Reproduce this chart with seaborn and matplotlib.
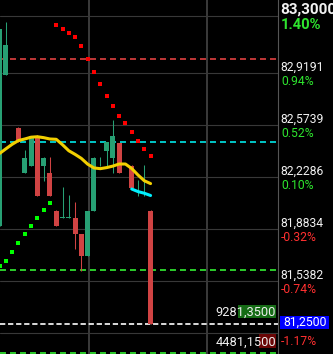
import matplotlib
matplotlib.use("Agg")
import matplotlib.pyplot as plt
from matplotlib.patches import Rectangle
import numpy as np
import seaborn as sns

# candle index (0 = first full candle on screen), prices
bar_idx = list(range(-3, 22))
opens = [81.904, 82.906, 82.958, 82.556, 82.255, 82.304, 82.503, 82.304, 82.255, 82.003,
         81.959, 81.959, 81.959, 81.852, 81.706, 82.005, 82.302, 82.403, 82.357, 82.455,
         np.nan, 82.302, 82.109, 82.109, 82.003]
highs = [83.211, 83.258, 82.960, 82.561, 82.408, 82.501, 82.508, 82.362, 82.362, 82.010,
         82.162, 82.109, 82.063, 81.852, 82.003, 82.362, 82.362, 82.459, 82.607, 82.455,
         np.nan, 82.308, 82.209, 82.308, 82.010]
lows = [81.904, 82.906, 82.958, 82.459, 82.255, 82.304, 82.105, 82.204, 82.105, 81.906,
        81.959, 81.959, 81.753, 81.607, 81.706, 82.005, 82.302, 82.304, 82.255, 82.255,
        np.nan, 82.158, 82.105, 82.105, 81.250]
closes = [83.211, 83.105, 82.960, 82.459, 82.355, 82.501, 82.105, 82.355, 82.105, 81.906,
          81.961, 81.961, 81.852, 81.706, 82.003, 82.355, 82.304, 82.459, 82.501, 82.255,
          np.nan, 82.158, 82.111, 82.111, 81.250]

# moving average (yellow)
ma_vals = [82.385, 82.416, 82.446, 82.471, 82.481, 82.493, 82.496, 82.490, 82.481, 82.479,
           82.443, 82.403, 82.379, 82.352, 82.314, 82.289, 82.284, 82.291, 82.301, 82.315,
           82.315, 82.285, 82.242, 82.204, 82.185]

# short cyan line at the end
cyan_idx = [18, 19, 20, 21]
cyan_vals = [82.149, 82.132, 82.121, 82.106]

# parabolic SAR dots
sar_up_idx = list(range(-3, 6))
sar_up = [81.640, 81.673, 81.733, 81.793, 81.852, 81.906, 81.959, 82.012, 82.058]
sar_dn_idx = list(range(6, 22))
sar_dn = [83.238, 83.211, 83.185, 83.158, 83.098, 83.012, 82.928, 82.848, 82.768, 82.702,
          82.636, 82.589, 82.530, 82.470, 82.417, 82.370]

# horizontal levels
red_level = 83.010
cyan_level = 82.459
green_levels = [81.609, 81.059]
last_price = 81.25
last_label = "81,2500"

# right scale
grid_prices = [83.3000, 82.9191, 82.5739, 82.2286, 81.8834, 81.5382, 81.1930]
price_labels = ["83,3000", "82,9191", "82,5739", "82,2286", "81,8834", "81,5382", None]
pct_labels = ["1.40%", "0.94%", "0.52%", "0.10%", "-0.32%", "-0.74%", "-1.17%"]
vgrid = [11.2, 30.0]

vol_labels = ["9281,3500", "4481,1500"]

W, H = 333, 354

sns.set_theme(style="dark", rc={
    "axes.facecolor": "black",
    "figure.facecolor": "black",
    "savefig.facecolor": "black",
    "lines.scale_dashes": False,
})
plt.rcParams["font.family"] = ["Roboto", "DejaVu Sans"]

fig = plt.figure(figsize=(W / 100, H / 100), dpi=100)
ax = fig.add_axes([0, 0, 278 / W, 1])
ax.set_facecolor("black")

up_col = "#27a074"
dn_col = "#d04343"

o = np.array(opens)
h = np.array(highs)
l = np.array(lows)
c = np.array(closes)
x = np.array(bar_idx, dtype=float)
ok = ~np.isnan(o)
cols = np.where(c >= o, up_col, dn_col)

ax.vlines(x[ok], l[ok], h[ok], colors=cols[ok], lw=0.75, zorder=3)
body = np.maximum(np.abs(c - o), 0.0012)
ax.bar(x[ok], body[ok], bottom=np.minimum(o, c)[ok], width=0.8,
       color=cols[ok], linewidth=0, zorder=3)

sns.lineplot(x=bar_idx, y=ma_vals, color="#f2cf00", linewidth=2.2, ax=ax, zorder=4)
sns.lineplot(x=cyan_idx, y=cyan_vals, color="#00f0ff", linewidth=2.2, ax=ax, zorder=4)

sns.scatterplot(x=sar_up_idx, y=sar_up, marker="s", s=12, color="#00ff00",
                linewidth=0, ax=ax, zorder=5)
sns.scatterplot(x=sar_dn_idx, y=sar_dn, marker="s", s=12, color="#ff0000",
                linewidth=0, ax=ax, zorder=5)

ax.axhline(red_level, color="#e04040", lw=1.2, dashes=(4.3, 2.9), zorder=2)
ax.axhline(cyan_level, color="#00e8e8", lw=1.2, dashes=(4.3, 2.9), zorder=2)
for g in green_levels:
    ax.axhline(g, color="#33f033", lw=1.2, dashes=(4.3, 2.9), zorder=2)
ax.axhline(last_price, color="#ffffff", lw=1.2, dashes=(3.8, 2.0), zorder=2)

ax.set_xlim(-2.94, 41.26)
ax.set_ylim(81.0538, 83.4037)
ax.set_yticks(grid_prices)
ax.set_xticks(vgrid)
ax.tick_params(length=0, labelleft=False, labelbottom=False)
ax.yaxis.grid(True, color="#383838", lw=0.8)
ax.xaxis.grid(True, color="#404040", lw=1.3)
ax.set_axisbelow(True)
for s in ["top", "left", "bottom"]:
    ax.spines[s].set_visible(False)
ax.spines["right"].set_color("#555555")
ax.spines["right"].set_linewidth(0.8)

ytr = ax.get_yaxis_transform()
for i, (pr, lab, pct) in enumerate(zip(grid_prices, price_labels, pct_labels)):
    top = i == 0
    wt = "bold" if top else "normal"
    pcol = "#2ee52e" if not pct.startswith("-") else "#ff3030"
    if lab is not None:
        ax.annotate(lab, xy=(1, pr), xycoords=ytr, xytext=(1.4, 4.4 if top else 4.0),
                    textcoords="offset points", ha="left", va="center",
                    fontsize=11 if top else 8.7, fontweight=wt, color="#f2f2f2",
                    annotation_clip=False)
    ax.annotate(pct, xy=(1, pr), xycoords=ytr, xytext=(2.2, -6.4 if top else -6.1),
                textcoords="offset points", ha="left", va="center",
                fontsize=10.6 if top else 8.7, fontweight=wt, color=pcol,
                annotation_clip=False)


def fx(px):
    return px / W


def fy(py):
    return 1 - py / H


# last price box
fig.add_artist(Rectangle((fx(280.3), fy(329.3)), 49 / W, 13.6 / H,
                         transform=fig.transFigure, facecolor="#0000ff",
                         edgecolor="none", zorder=5))
fig.text(fx(283.3), fy(322.6), last_label, ha="left", va="center", fontsize=8.8,
         color="white", zorder=6)

# volume-like labels bottom right of plot
fig.add_artist(Rectangle((fx(238.3), fy(317.5)), 38 / W, 12.5 / H,
                         transform=fig.transFigure, facecolor="#166c16",
                         edgecolor="none", zorder=5))
fig.text(fx(276), fy(312.5), vol_labels[0], ha="right", va="center", fontsize=9.3,
         color="#eeeeee", zorder=6)
fig.add_artist(Rectangle((fx(259), fy(348)), 17 / W, 14 / H,
                         transform=fig.transFigure, facecolor="#6a0505",
                         edgecolor="none", zorder=5))
fig.text(fx(276), fy(342), vol_labels[1], ha="right", va="center", fontsize=9.3,
         color="#eeeeee", zorder=6)

fig.savefig("out.png", dpi=100)
